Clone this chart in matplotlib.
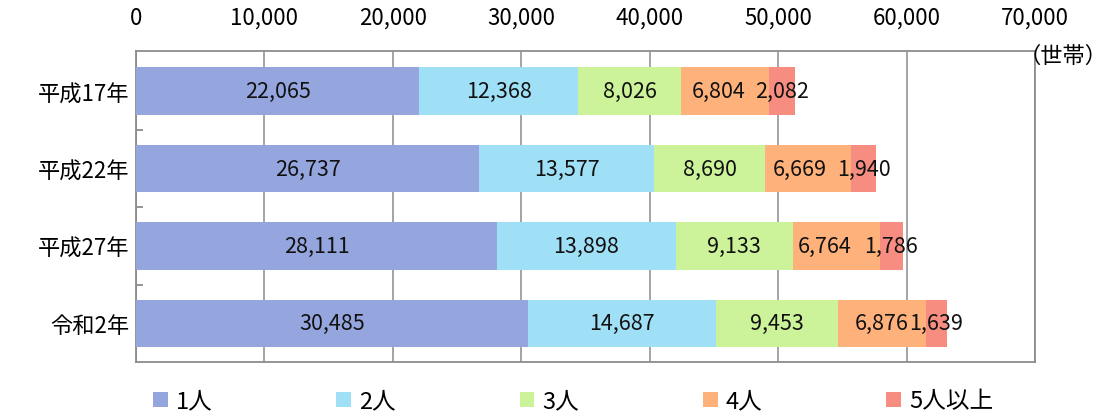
import numpy as np
import matplotlib
matplotlib.use("Agg")
import matplotlib.pyplot as plt
from matplotlib.patches import Patch
from matplotlib.ticker import FuncFormatter, FixedLocator

plt.rcParams["font.family"] = ["Noto Sans CJK JP", "DejaVu Sans"]

# ── data ──────────────────────────────────────────────────────────────────────
years  = ["平成17年", "平成22年", "平成27年", "令和2年"]
groups = ["1人", "2人", "3人", "4人", "5人以上"]
one    = [22065, 26737, 28111, 30485]
two    = [12368, 13577, 13898, 14687]
three  = [8026, 8690, 9133, 9453]
four   = [6804, 6669, 6764, 6876]
five   = [2082, 1940, 1786, 1639]

COLORS = ["#95A5DD", "#A0E0F7", "#CCF29A", "#FEB17B", "#F68D80"]
GRID   = "#8C8C8C"
# label nudges (px) for the "4人" labels, as in the source chart
NUDGE4 = [-6, -8, -12, 0]

series = [one, two, three, four, five]

fig = plt.figure(figsize=(11.17, 4.14), dpi=100)
ax = fig.add_axes([136 / 1117, 1 - 363 / 414, (1035 - 136) / 1117, (363 - 52) / 414])

ypos = np.arange(len(years))
left = np.zeros(len(years))
for k, (vals, c) in enumerate(zip(series, COLORS)):
    vals = np.array(vals, dtype=float)
    ax.barh(ypos, vals, left=left, height=0.615, color=c, lw=0, zorder=3)
    for i, v in enumerate(vals):
        dx = NUDGE4[i] if k == 3 else 0
        ax.annotate(f"{int(v):,}", (left[i] + v / 2, ypos[i]), xytext=(dx * 0.72, 0),
                    textcoords="offset points", ha="center", va="center",
                    fontsize=15.5, color="#111111", zorder=5)
    left += vals

ax.set_xlim(0, 70000)
ax.set_ylim(len(years) - 0.5 + 0.0, -0.52)
ax.xaxis.set_major_locator(FixedLocator(np.arange(0, 70001, 10000)))
ax.xaxis.set_major_formatter(FuncFormatter(lambda v, p: f"{int(v):,}"))
ax.xaxis.tick_top()
ax.tick_params(axis="x", length=0, pad=16, labelsize=16)
ax.set_yticks(ypos)
ax.set_yticklabels(years)
ax.tick_params(axis="y", which="major", length=0, pad=5, labelsize=16)
ax.set_yticks([0.5, 1.5, 2.5], minor=True)
ax.tick_params(axis="y", which="minor", direction="in", length=5, width=1.3, color=GRID)

ax.grid(axis="x", color=GRID, lw=1.1, zorder=0)
for s in ax.spines.values():
    s.set_color(GRID)
    s.set_linewidth(1.3)

fig.text(1108 / 1117, 1 - 56 / 414, "（世帯）", ha="right", va="center", fontsize=16)

handles = [Patch(facecolor=c, edgecolor="none") for c in COLORS]
fig.legend(handles, groups, loc="center", bbox_to_anchor=(573 / 1117, 1 - 402 / 414),
           ncol=5, frameon=False, fontsize=17, handlelength=0.62, handleheight=0.62,
           handletextpad=0.34, columnspacing=5.25, borderpad=0, borderaxespad=0)

fig.savefig("out.png", dpi=100)
